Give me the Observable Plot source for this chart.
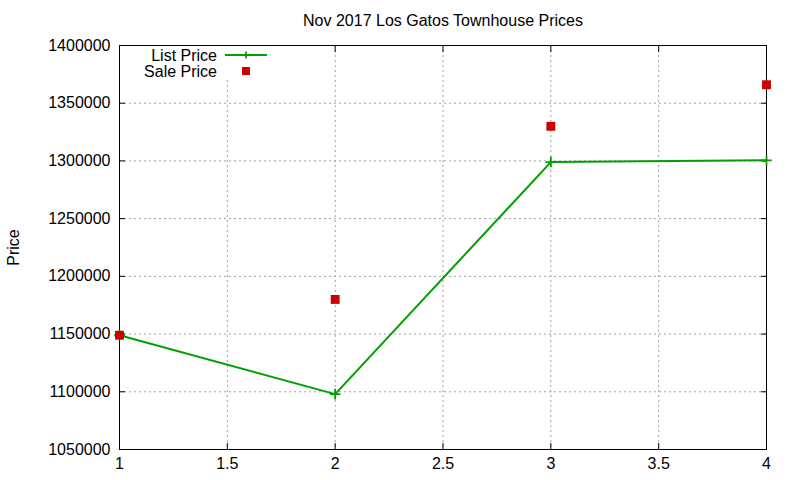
<!DOCTYPE html>
<html>
<head>
<meta charset="utf-8">
<script src="https://cdn.jsdelivr.net/npm/d3@7"></script>
<script src="https://cdn.jsdelivr.net/npm/@observablehq/plot@0.6"></script>
<style>
  html, body { margin: 0; padding: 0; background: #fff; }
  #chart { width: 800px; height: 480px; }
</style>
</head>
<body>
<div id="chart"></div>
<script>
const title = "Nov 2017 Los Gatos Townhouse Prices";
const yLabel = "Price";
const xValues = [1, 2, 3, 4];
const listPrice = [1149000, 1098000, 1299000, 1300500];
const salePrice = [1149000, 1180000, 1330000, 1366000];
const xTicks = [1, 1.5, 2, 2.5, 3, 3.5, 4];
const yTicks = [1050000, 1100000, 1150000, 1200000, 1250000, 1300000, 1350000, 1400000];
const seriesNames = ["List Price", "Sale Price"];
const listColor = "#00a000";
const saleColor = "#cc0000";

const listData = xValues.map((x, i) => ({x, y: listPrice[i]}));
const saleData = xValues.map((x, i) => ({x, y: salePrice[i]}));

const font = "'Liberation Sans', Arial, sans-serif";

const plot = Plot.plot({
  width: 800,
  height: 480,
  marginLeft: 119,
  marginRight: 34,
  marginTop: 45,
  marginBottom: 31,
  style: {fontFamily: font, fontSize: "16px", color: "#000", background: "#fff", overflow: "visible"},
  x: {domain: [1, 4], ticks: xTicks},
  y: {domain: [1050000, 1400000], ticks: yTicks},
  marks: [
    Plot.gridX(xTicks, {stroke: "#a0a0a0", strokeOpacity: 1, strokeDasharray: "2,3", strokeWidth: 1}),
    Plot.gridY(yTicks, {stroke: "#a0a0a0", strokeOpacity: 1, strokeDasharray: "2,3", strokeWidth: 1}),
    Plot.axisX(xTicks, {anchor: "bottom", tickSize: -6, tickPadding: 14, tickFormat: d => String(d), label: null, fontSize: 16, stroke: "#000"}),
    Plot.axisX(xTicks, {anchor: "top", tickSize: -6, tickFormat: () => "", label: null, stroke: "#000"}),
    Plot.axisY(yTicks, {anchor: "left", tickSize: -6, tickPadding: 15, tickFormat: d => String(d), label: null, fontSize: 16, stroke: "#000"}),
    Plot.axisY(yTicks, {anchor: "right", tickSize: -6, tickFormat: () => "", label: null, stroke: "#000"}),
    Plot.frame({stroke: "#000", strokeWidth: 1}),
    Plot.line(listData, {x: "x", y: "y", stroke: listColor, strokeWidth: 2}),
    Plot.dot(listData, {x: "x", y: "y", symbol: "plus", r: 3.5, stroke: listColor, strokeWidth: 1.8}),
    Plot.dot(saleData, {x: "x", y: "y", symbol: "square", r: 5, fill: saleColor, stroke: "none"}),
    Plot.text([title], {frameAnchor: "top", lineAnchor: "middle", dy: -25, fontSize: 16, fill: "#000"}),
    Plot.text([yLabel], {frameAnchor: "left", textAnchor: "middle", dx: -106, rotate: -90, fontSize: 16, fill: "#000"})
  ]
});

document.getElementById("chart").appendChild(plot);

// Legend (gnuplot-style key at top-left inside the frame)
const svg = d3.select(plot);
const key = svg.append("g").attr("font-family", font).attr("font-size", 16);
key.append("rect").attr("x", 140).attr("y", 46).attr("width", 135).attr("height", 34).attr("fill", "#fff");
const entries = [
  {name: seriesNames[0], y: 55, type: "line"},
  {name: seriesNames[1], y: 71, type: "square"}
];
entries.forEach(e => {
  key.append("text").attr("x", 217).attr("y", e.y).attr("dy", "0.35em").attr("text-anchor", "end").text(e.name);
  if (e.type === "line") {
    key.append("line").attr("x1", 225).attr("x2", 267).attr("y1", e.y).attr("y2", e.y).attr("stroke", listColor).attr("stroke-width", 2);
    key.append("path").attr("d", "M-3.5,0H3.5M0,-3.5V3.5").attr("transform", `translate(246,${e.y})`).attr("fill", "none").attr("stroke", listColor).attr("stroke-width", 1.8);
  } else {
    key.append("rect").attr("x", 242).attr("y", e.y - 4).attr("width", 8).attr("height", 8).attr("fill", saleColor);
  }
});
</script>
</body>
</html>
